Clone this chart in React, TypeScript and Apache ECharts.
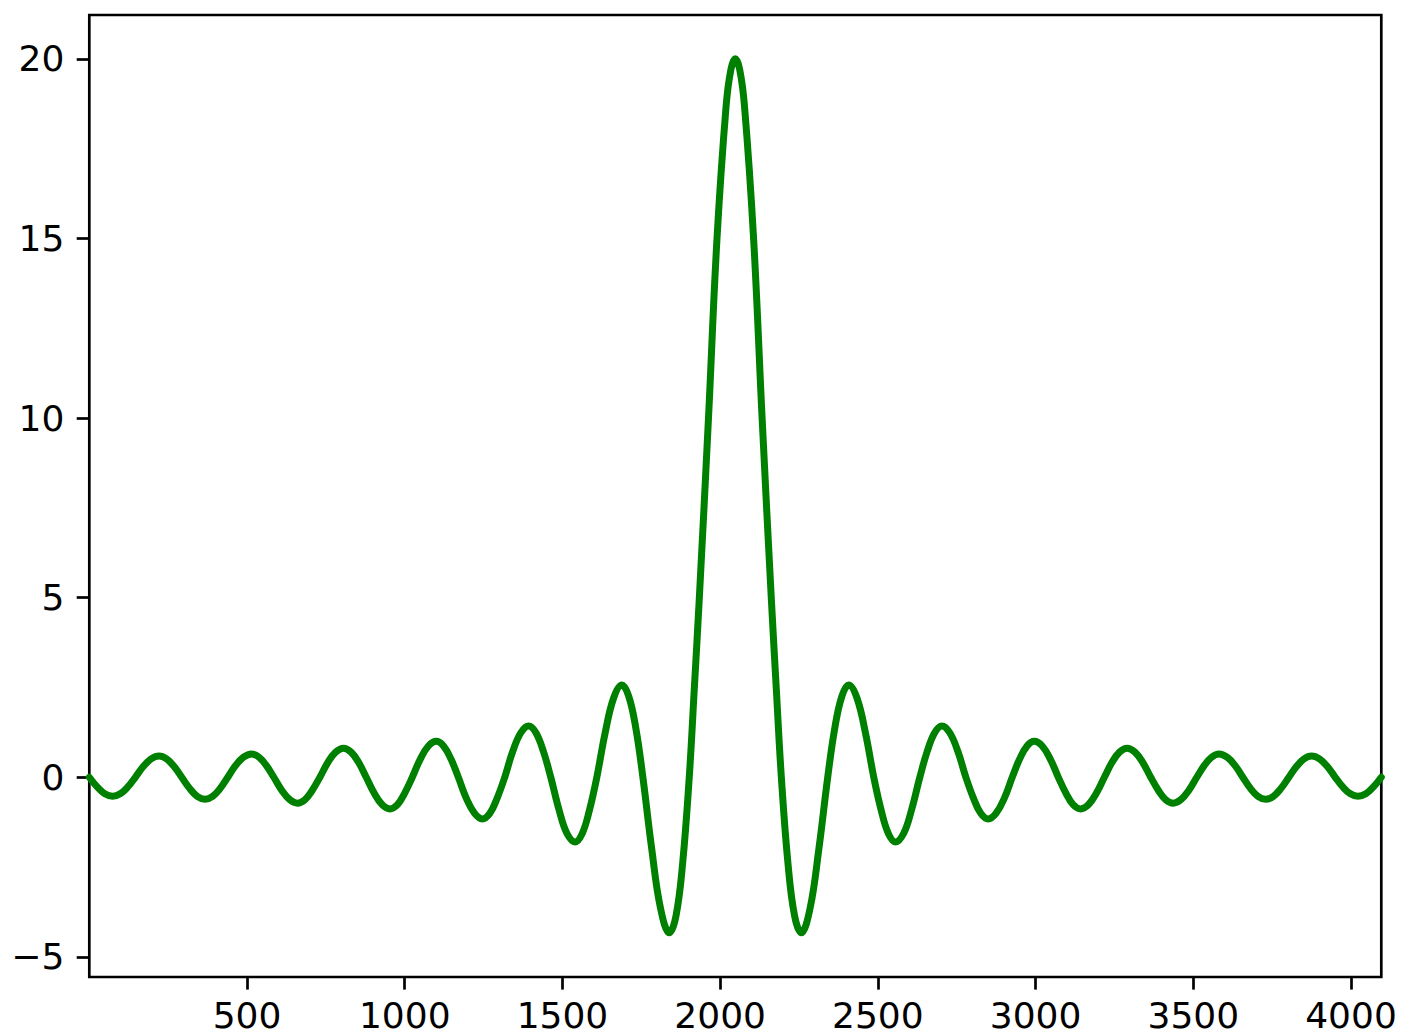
import React, { useEffect, useRef } from "react";
import * as echarts from "echarts";

// Sample positions, lobe by lobe (zero, rise, extremum, fall)
const xValues = [
  0, 25, 49, 74, 98, 122,
  146, 171, 196, 221, 245, 269,
  293, 318, 342, 367, 391, 415,
  439, 464, 489, 514, 538, 561,
  585, 610, 635, 660, 684, 707,
  731, 756, 781, 806, 830, 854,
  878, 903, 928, 953, 977, 1000,
  1024, 1049, 1075, 1100, 1123, 1147,
  1170, 1195, 1221, 1246, 1270, 1293,
  1317, 1342, 1368, 1393, 1416, 1440,
  1463, 1489, 1514, 1540, 1563, 1586,
  1609, 1635, 1662, 1688, 1710, 1733,
  1755, 1783, 1811, 1839, 1860, 1881,
  1902, 1918, 1934, 1963, 1990, 2019, 2034, 2048, 2062, 2077, 2106, 2133, 2162, 2178,
  2194, 2215, 2236, 2257, 2285, 2313,
  2341, 2363, 2386, 2408, 2434, 2461,
  2487, 2510, 2533, 2556, 2582, 2607,
  2633, 2656, 2680, 2703, 2728, 2754,
  2779, 2803, 2826, 2850, 2875, 2901,
  2926, 2949, 2973, 2996, 3021, 3047,
  3072, 3096, 3119, 3143, 3168, 3193,
  3218, 3242, 3266, 3290, 3315, 3340,
  3365, 3389, 3412, 3436, 3461, 3486,
  3511, 3535, 3558, 3582, 3607, 3632,
  3657, 3681, 3705, 3729, 3754, 3778,
  3803, 3827, 3851, 3875, 3900, 3925,
  3950, 3974, 3998, 4022, 4047, 4071, 4096,
];
const yValues = [
  0, -0.27, -0.46, -0.53, -0.46, -0.27,
  0, 0.3, 0.51, 0.59, 0.51, 0.3,
  0, -0.31, -0.53, -0.61, -0.53, -0.31,
  0, 0.33, 0.56, 0.65, 0.56, 0.33,
  0, -0.36, -0.62, -0.72, -0.62, -0.36,
  0, 0.41, 0.7, 0.81, 0.7, 0.41,
  0, -0.44, -0.76, -0.88, -0.76, -0.44,
  0, 0.5, 0.87, 1.0, 0.87, 0.5,
  0, -0.58, -1.0, -1.16, -1.0, -0.58,
  0, 0.71, 1.24, 1.43, 1.24, 0.71,
  0, -0.9, -1.56, -1.8, -1.56, -0.9,
  0, 1.22, 2.2, 2.57, 2.26, 1.35,
  0, -1.99, -3.65, -4.33, -3.86, -2.4,
  0, 2.46, 5, 10, 15, 18.7, 19.7, 20, 19.7, 18.7, 15, 10, 5, 2.46,
  0, -2.4, -3.86, -4.33, -3.65, -1.99,
  0, 1.35, 2.26, 2.57, 2.2, 1.22,
  0, -0.9, -1.56, -1.8, -1.56, -0.9,
  0, 0.71, 1.24, 1.43, 1.24, 0.71,
  0, -0.58, -1.0, -1.16, -1.0, -0.58,
  0, 0.5, 0.87, 1.0, 0.87, 0.5,
  0, -0.44, -0.76, -0.88, -0.76, -0.44,
  0, 0.41, 0.7, 0.81, 0.7, 0.41,
  0, -0.36, -0.62, -0.72, -0.62, -0.36,
  0, 0.33, 0.56, 0.65, 0.56, 0.33,
  0, -0.31, -0.53, -0.61, -0.53, -0.31,
  0, 0.3, 0.51, 0.59, 0.51, 0.3,
  0, -0.27, -0.46, -0.53, -0.46, -0.27, 0,
];
const xTicks = [500, 1000, 1500, 2000, 2500, 3000, 3500, 4000];
const yTicks = [-5, 0, 5, 10, 15, 20];

export default function App() {
  const ref = useRef<HTMLDivElement>(null);
  useEffect(() => {
    if (!ref.current) return;
    const chart = echarts.init(ref.current, null, { renderer: "svg" });
    const data = xValues.map((x, i) => [x, yValues[i]]);
    const font = "DejaVu Sans";
    chart.setOption({
      animation: false,
      backgroundColor: "#ffffff",
      grid: {
        left: 89.3,
        top: 15,
        width: 1292,
        height: 962,
        show: true,
        borderColor: "#000000",
        borderWidth: 2.7,
        backgroundColor: "transparent",
      },
      xAxis: {
        type: "value",
        min: 0,
        max: 4096,
        axisLine: { show: false, onZero: false },
        splitLine: { show: false },
        axisTick: {
          show: true,
          customValues: xTicks,
          length: 12.6,
          inside: false,
          lineStyle: { color: "#000000", width: 2.7 },
        },
        axisLabel: {
          customValues: xTicks,
          margin: 20,
          fontFamily: font,
          fontSize: 36,
          color: "#000000",
          formatter: (v: number) => String(v),
        },
      },
      yAxis: {
        type: "value",
        min: -5.56,
        max: 21.22,
        axisLine: { show: false, onZero: false },
        splitLine: { show: false },
        axisTick: {
          show: true,
          customValues: yTicks,
          length: 12.6,
          inside: false,
          lineStyle: { color: "#000000", width: 2.7 },
        },
        axisLabel: {
          customValues: yTicks,
          margin: 25,
          fontFamily: font,
          fontSize: 36,
          color: "#000000",
          formatter: (v: number) => String(v).replace("-", "\u2212"),
        },
      },
      series: [
        {
          type: "line",
          data,
          smooth: 0.4,
          showSymbol: false,
          symbol: "none",
          clip: true,
          lineStyle: { color: "#008000", width: 7, join: "round", cap: "round" },
        },
      ],
    });
    return () => chart.dispose();
  }, []);
  return (
    <div
      ref={ref}
      style={{ position: "absolute", left: 0, top: 0, width: 1403, height: 1036 }}
    />
  );
}
